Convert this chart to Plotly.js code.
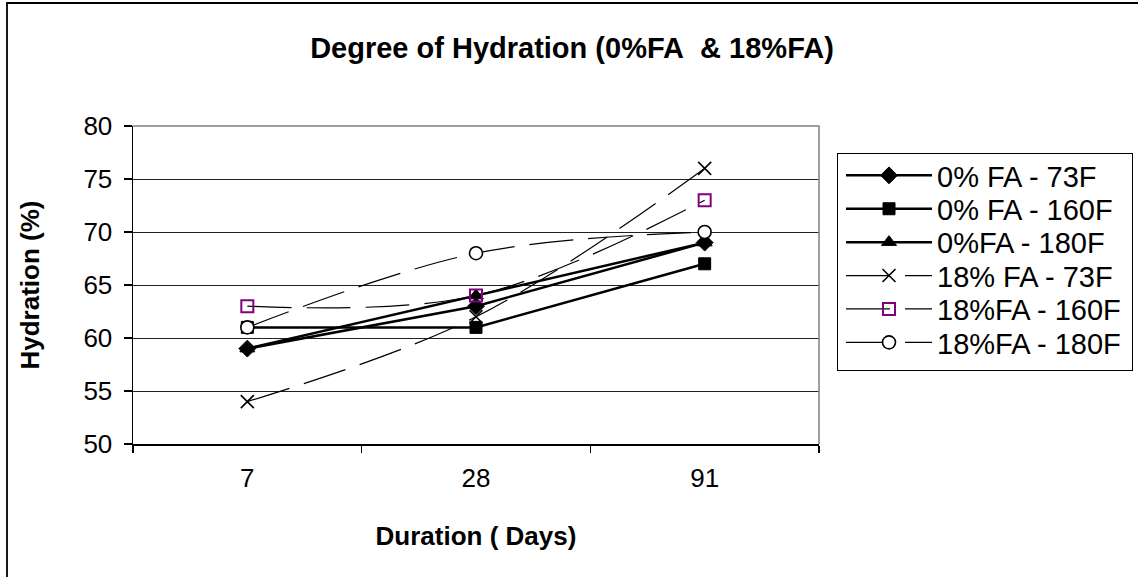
<!DOCTYPE html>
<html>
<head>
<meta charset="utf-8">
<script src="https://cdn.plot.ly/plotly-3.0.1.min.js"></script>
<style>html,body{margin:0;padding:0;background:#fff;}#chart{width:1138px;height:577px;}</style>
</head>
<body>
<div id="chart"></div>
<script>
const categories = ['7', '28', '91'];
const seriesNames = ['0% FA - 73F', '0% FA - 160F', '0%FA - 180F', '18% FA - 73F', '18%FA - 160F', '18%FA - 180F'];
const fa0_73F = [59, 63, 69];
const fa0_160F = [61, 61, 67];
const fa0_180F = [59, 64, 69];
const fa18_73F = [54, 62, 76];
const fa18_160F = [63, 64, 73];
const fa18_180F = [61, 68, 70];
const yTicks = [50, 55, 60, 65, 70, 75, 80];

const FONT = 'Liberation Sans, Arial, sans-serif';
const W = 1138, H = 577;
const L = 133, R = 819, T = 126, B = 444;
const pw = R - L, ph = B - T;
const px = v => (v - L) / pw;
const py = v => (B - v) / ph;

function solid(name, y, symbol, size) {
  return {
    type: 'scatter', mode: 'lines+markers', name: name, x: categories, y: y,
    line: {color: '#000', width: 2.5},
    marker: {symbol: symbol, size: size, color: '#000', line: {color: '#000', width: 1}}
  };
}
function dashed(name, y, marker) {
  return {
    type: 'scatter', mode: 'lines+markers', name: name, x: categories, y: y,
    line: {color: '#000', width: 1.2, dash: '44px,15px', shape: 'spline', smoothing: 1},
    marker: marker
  };
}

const data = [
  solid(seriesNames[0], fa0_73F, 'diamond', 13),
  solid(seriesNames[1], fa0_160F, 'square', 12),
  solid(seriesNames[2], fa0_180F, 'triangle-up', 13),
  dashed(seriesNames[3], fa18_73F, {symbol: 'x-thin-open', size: 13, color: '#000', line: {color: '#000', width: 1.6}}),
  dashed(seriesNames[4], fa18_160F, {symbol: 'square-open', size: 12, color: '#800080', line: {color: '#800080', width: 2}}),
  dashed(seriesNames[5], fa18_180F, {symbol: 'circle', size: 13, color: '#fff', line: {color: '#000', width: 1.6}})
];

const layout = {
  width: W, height: H,
  margin: {l: L, r: W - R, t: T, b: H - B, pad: 0},
  paper_bgcolor: '#fff', plot_bgcolor: '#fff',
  font: {family: FONT, size: 26, color: '#000'},
  title: {
    text: 'Degree of Hydration (0%FA\u00a0 & 18%FA)',
    font: {family: FONT, size: 29, weight: 'bold', color: '#000'},
    x: 572 / W, xanchor: 'center', xref: 'container',
    y: 1 - 48 / H, yanchor: 'middle', yref: 'container'
  },
  xaxis: {
    type: 'category', range: [-0.5, 2.5], autorange: false,
    title: {text: 'Duration ( Days)', font: {family: FONT, size: 26, weight: 'bold'}, standoff: 35},
    tickson: 'boundaries', ticks: 'outside', ticklen: 7, tickwidth: 1.5, tickcolor: '#000',
    showline: true, linecolor: '#000', linewidth: 1.5,
    showgrid: false, zeroline: false,
    tickfont: {family: FONT, size: 26},
    ticklabelstandoff: 10
  },
  yaxis: {
    range: [50, 80], autorange: false, tickvals: yTicks, ticktext: yTicks.map(String),
    title: {text: 'Hydration (%)', font: {family: FONT, size: 26, weight: 'bold'}, standoff: 36},
    ticks: 'outside', ticklen: 8, tickwidth: 1.5, tickcolor: '#000',
    showline: true, linecolor: '#000', linewidth: 1.5,
    showgrid: true, gridcolor: '#222', gridwidth: 1,
    zeroline: false,
    tickfont: {family: FONT, size: 26},
    ticklabelstandoff: 6
  },
  showlegend: true,
  legend: {
    x: px(837), xanchor: 'left', y: py(153), yanchor: 'top',
    bgcolor: '#fff', bordercolor: '#000', borderwidth: 1,
    font: {family: FONT, size: 29, color: '#000'},
    itemwidth: 86, traceorder: 'normal'
  },
  shapes: [
    {type: 'path', xref: 'paper', yref: 'paper', path: 'M0,1 L1,1 L1,0', line: {color: '#808080', width: 1.5}, layer: 'above'},
    {type: 'rect', xref: 'paper', yref: 'paper', x0: px(7), x1: px(1170), y0: py(3), y1: py(610), line: {color: '#000', width: 1.8}, fillcolor: 'rgba(0,0,0,0)', layer: 'below'}
  ]
};

// legend row spacing and box size as in the reference
const LEGEND_ROW = 33.4, LEGEND_BOX_W = 295, LEGEND_BOX_H = 217;

Plotly.newPlot('chart', data, layout, {displayModeBar: false, staticPlot: true}).then(gd => {
  const traces = gd.querySelectorAll('.legend .traces');
  if (!traces.length) return;
  const m = /translate\(\s*([-\d.]+)[ ,]+([-\d.]+)\s*\)/.exec(traces[0].getAttribute('transform') || '');
  const x0 = m ? parseFloat(m[1]) : 0, y0 = m ? parseFloat(m[2]) : 0;
  traces.forEach((t, i) => t.setAttribute('transform', 'translate(' + (x0 + 3) + ',' + (y0 - 4 + i * LEGEND_ROW) + ')'));
  const bg = gd.querySelector('.legend .bg');
  if (bg) { bg.setAttribute('height', LEGEND_BOX_H); bg.setAttribute('width', LEGEND_BOX_W); }
  gd.querySelectorAll('.legend clipPath rect').forEach(r => { r.setAttribute('height', LEGEND_BOX_H); r.setAttribute('width', LEGEND_BOX_W); });
});
</script>
</body>
</html>
